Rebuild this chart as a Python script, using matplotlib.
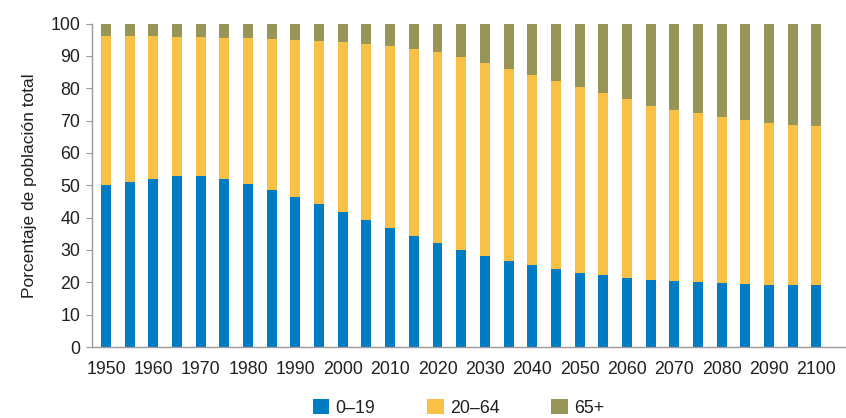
import numpy as np
import matplotlib.pyplot as plt

plt.rcParams['font.family'] = ['Liberation Sans', 'DejaVu Sans']

# Datos (porcentaje de población total)
years = list(range(1950, 2101, 5))
age_0_19 = [50.0, 50.9, 51.9, 52.9, 52.9, 51.9, 50.4, 48.5, 46.5, 44.3, 41.8,
            39.2, 36.7, 34.2, 32.0, 30.1, 28.1, 26.6, 25.3, 24.0, 22.8,
            22.2, 21.2, 20.6, 20.3, 20.0, 19.7, 19.4, 19.1, 19.1, 19.1]
cum_20_64 = [96.2, 96.2, 96.2, 95.9, 95.9, 95.6, 95.6, 95.2, 94.8, 94.5, 94.2,
             93.6, 93.0, 92.1, 91.1, 89.6, 87.9, 86.0, 84.1, 82.3, 80.3,
             78.5, 76.6, 74.6, 73.4, 72.2, 71.1, 70.2, 69.3, 68.7, 68.4]
age_20_64 = [c - a for c, a in zip(cum_20_64, age_0_19)]
age_65 = [100 - c for c in cum_20_64]
labels = ['0–19', '20–64', '65+']
colors = ['#007CC3', '#F8C045', '#989558']

x = np.arange(len(years))
fig = plt.figure(figsize=(8.46, 4.18), dpi=100)
ax = fig.add_axes([92/846, 1-347/418, 1-92/846, (347-23.5)/418])

w = 0.42
b1 = ax.bar(x, age_0_19, w, color=colors[0], label=labels[0])
b2 = ax.bar(x, age_20_64, w, bottom=age_0_19, color=colors[1], label=labels[1])
b3 = ax.bar(x, age_65, w, bottom=cum_20_64, color=colors[2], label=labels[2])

ax.set_xlim(-0.59, 31.25)
ax.set_ylim(0, 100)
ax.set_yticks(range(0, 101, 10))
ax.set_xticks(x[::2])
ax.set_xticklabels([str(y) for y in years[::2]])
fs = 12.8
ax.tick_params(axis='x', length=0, pad=10, labelsize=fs, colors='#231F20')
ax.tick_params(axis='y', length=4.3, width=0.8, color='#999999', pad=4,
               labelsize=fs, labelcolor='#231F20')
for s in ['top', 'right']:
    ax.spines[s].set_visible(False)
for s in ['left', 'bottom']:
    ax.spines[s].set_color('#999999')
    ax.spines[s].set_linewidth(1.0)
ax.set_ylabel('Porcentaje de población total', fontsize=12.5, color='#231F20', labelpad=10)

fig.legend(handles=[b1, b2, b3], labels=labels, loc='lower center',
           bbox_to_anchor=(0.542, -0.035), ncol=3, frameon=False, fontsize=fs,
           handlelength=0.95, handleheight=0.95, handletextpad=0.35,
           columnspacing=2.9, labelcolor='#231F20')

fig.savefig('out.png', dpi=100)
